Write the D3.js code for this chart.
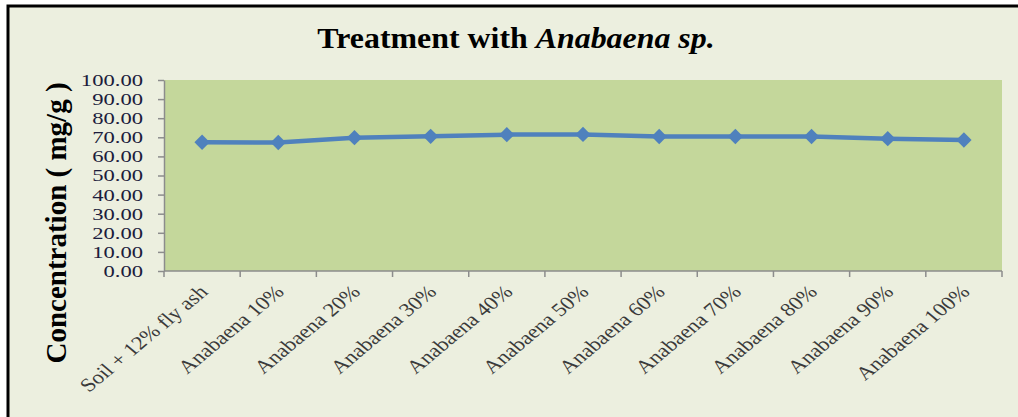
<!DOCTYPE html>
<html>
<head>
<meta charset="utf-8">
<script src="https://cdn.jsdelivr.net/npm/d3@7"></script>
<style>
  body { margin: 0; background: #fff; }
  svg { display: block; }
</style>
</head>
<body>
<div class="canvas"></div>
<script>
const categories = ["Soil + 12% fly ash", "Anabaena 10%", "Anabaena 20%", "Anabaena 30%",
  "Anabaena 40%", "Anabaena 50%", "Anabaena 60%", "Anabaena 70%", "Anabaena 80%",
  "Anabaena 90%", "Anabaena 100%"];
const values = [67.4, 67.3, 69.8, 70.5, 71.4, 71.5, 70.4, 70.4, 70.4, 69.3, 68.6];
const yTicks = [0, 10, 20, 30, 40, 50, 60, 70, 80, 90, 100];

const width = 1018, height = 417;
const plot = { left: 164, top: 80, right: 1002, bottom: 271 };
const serif = "Liberation Serif, Times New Roman, serif";

const svg = d3.select(".canvas")
  .append("svg")
  .attr("width", width)
  .attr("height", height);

// chart background + border (only top/left visible in the crop)
svg.append("rect")
  .attr("x", 0).attr("y", 0)
  .attr("width", width).attr("height", height)
  .attr("fill", "#ffffff");
svg.append("rect")
  .attr("x", 8).attr("y", 6)
  .attr("width", width).attr("height", height)
  .attr("fill", "#ecefdf")
  .attr("stroke", "#000")
  .attr("stroke-width", 3);

const x = d3.scaleBand()
  .domain(categories)
  .range([plot.left, plot.right]);

const y = d3.scaleLinear()
  .domain([0, 100])
  .range([plot.bottom, plot.top]);

svg.append("rect")
  .attr("x", plot.left)
  .attr("y", plot.top)
  .attr("width", plot.right - plot.left)
  .attr("height", plot.bottom - plot.top)
  .attr("fill", "#c4d79b");

// title
const title = svg.append("text")
  .attr("transform", "translate(516,48) scale(1.1,1)")
  .attr("text-anchor", "middle")
  .attr("font-family", serif)
  .attr("font-weight", "bold")
  .attr("font-size", 29)
  .attr("fill", "#000");
title.append("tspan").text("Treatment with ");
title.append("tspan").attr("font-style", "italic").text("Anabaena sp.");

// y axis
const yAxis = svg.append("g")
  .attr("transform", `translate(${plot.left},0)`)
  .call(d3.axisLeft(y).tickValues(yTicks).tickFormat(d3.format(".2f")).tickSize(6).tickSizeOuter(0));
yAxis.select(".domain").attr("stroke", "#8c8c8c").attr("stroke-width", 1.5);
yAxis.selectAll(".tick line").attr("stroke", "#8c8c8c").attr("stroke-width", 1.5);
yAxis.selectAll(".tick text")
  .attr("x", 0)
  .attr("transform", "translate(-21,0) scale(1.33,1)")
  .attr("font-family", serif)
  .attr("font-size", 17)
  .attr("fill", "#1c1c3c");

// x axis with ticks between categories
const xAxis = svg.append("g")
  .attr("transform", `translate(0,${plot.bottom})`);
xAxis.append("line")
  .attr("x1", plot.left).attr("x2", plot.right)
  .attr("stroke", "#8c8c8c").attr("stroke-width", 1.5);
const bounds = categories.map(d => x(d)).concat([x(categories[categories.length - 1]) + x.bandwidth()]);
xAxis.selectAll(".xtick")
  .data(bounds)
  .join("line")
  .attr("class", "xtick")
  .attr("x1", d => d).attr("x2", d => d)
  .attr("y1", 0).attr("y2", 6)
  .attr("stroke", "#8c8c8c").attr("stroke-width", 1.5);
xAxis.selectAll(".xlabel")
  .data(categories)
  .join("text")
  .attr("class", "xlabel")
  .attr("transform", d => `translate(${x(d) + x.bandwidth() / 2 + 7},${22}) scale(1.2,1) rotate(-45)`)
  .attr("text-anchor", "end")
  .attr("font-family", serif)
  .attr("font-size", 19)
  .attr("fill", "#3a3a3a")
  .text(d => d);

// y axis title
svg.append("text")
  .attr("transform", "translate(66,223) rotate(-90)")
  .attr("text-anchor", "middle")
  .attr("font-family", serif)
  .attr("font-weight", "bold")
  .attr("font-size", 29)
  .attr("fill", "#000")
  .text("Concentration ( mg/g )");

// line + markers
const line = d3.line()
  .x((d, i) => x(categories[i]) + x.bandwidth() / 2)
  .y(d => y(d));

svg.append("path")
  .datum(values)
  .attr("d", line)
  .attr("fill", "none")
  .attr("stroke", "#4f81bd")
  .attr("stroke-width", 4.5);

svg.selectAll(".pt")
  .data(values)
  .join("path")
  .attr("class", "pt")
  .attr("d", d3.symbol(d3.symbolDiamond2, 150))
  .attr("transform", (d, i) => `translate(${x(categories[i]) + x.bandwidth() / 2},${y(d)})`)
  .attr("fill", "#4f81bd");
</script>
</body>
</html>
